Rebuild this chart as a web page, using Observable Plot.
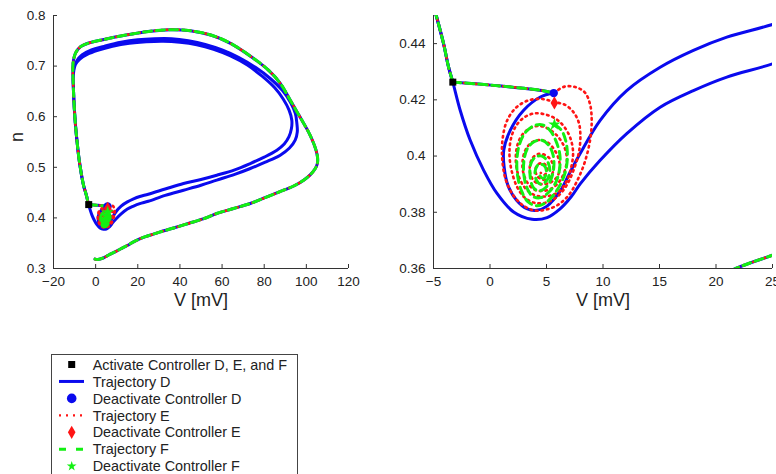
<!DOCTYPE html>
<html><head><meta charset="utf-8">
<script src="https://cdn.jsdelivr.net/npm/d3@7"></script>
<script src="https://cdn.jsdelivr.net/npm/@observablehq/plot@0.6"></script>
<style>
html,body{margin:0;padding:0;background:#fff;overflow:hidden;}
#page{position:relative;width:776px;height:474px;overflow:hidden;font-family:"Liberation Sans",Arial,sans-serif;}
.panel{position:absolute;top:0;}
.panel svg{max-width:none;overflow:visible;}
#legend{position:absolute;left:51px;top:354px;}
</style></head><body>
<div id="page"><div id="left" class="panel" style="left:0"></div><div id="right" class="panel" style="left:380px"></div><div id="legend"></div></div>
<script>
// ---- tick values ----
const xTicksL = [-20, 0, 20, 40, 60, 80, 100, 120];
const yTicksL = [0.3, 0.4, 0.5, 0.6, 0.7, 0.8];
const xTicksR = [-5, 0, 5, 10, 15, 20, 25];
const yTicksR = [0.36, 0.38, 0.4, 0.42, 0.44];
const xDomainL = [-20, 120], yDomainL = [0.3, 0.8];
const xDomainR = [-5, 25], yDomainR = [0.36, 0.45];

// ---- trajectory points [V (mV), n] ----
const preLower = [[-0.3,0.3185],[1,0.318],[2.5,0.3192],[4,0.3215],[6,0.3262],[9,0.3325],[12,0.339],[15,0.3455],[18,0.3525],[21.75,0.36],[25,0.3647],[30,0.3715],[37,0.38],[44,0.389],[51,0.398],[57.5,0.4087],[65,0.418],[73.4,0.4285],[81,0.441],[89.2,0.4547],[94.5,0.464],[98.7,0.4745],[101.8,0.485],[104,0.496],[105.2,0.507]];
const preTop = [[105.3,0.52],[104.5,0.535],[103,0.552],[101,0.57],[98.7,0.587],[95.5,0.61],[92.3,0.633],[87.6,0.666],[82,0.692],[74,0.718],[64,0.745],[55,0.761],[45,0.77],[35.4,0.772],[26,0.769],[18,0.764],[10,0.758],[2.2,0.751],[-3,0.746],[-7.3,0.738],[-9.5,0.726],[-10.5,0.712],[-10.8,0.698],[-10.8,0.686]];
const leftSide = [[-10.7,0.675],[-10.5,0.65],[-10.1,0.615],[-9.5,0.58],[-8.8,0.55],[-8.0,0.52],[-7.3,0.5],[-6.5,0.48],[-5.6,0.462],[-4.76,0.45],[-4.11,0.44],[-3.67,0.4317],[-3.29,0.4263]];
const controlSeg = [[-3.29,0.4263],[-1,0.4256],[1,0.4249],[3,0.4241],[4.6,0.4233],[5.64,0.4224]];
const dInner = [[5.64,0.4224],[4.46,0.421],[2.98,0.4163],[1.8,0.4092],[1.22,0.4021],[1.25,0.3961],[1.62,0.3892],[2.35,0.3843],[3.25,0.3813],[4.16,0.3807],[5.05,0.3822],[6.2,0.3875],[7.05,0.394],[7.98,0.4009],[9.75,0.4127],[12.1,0.4233],[15.06,0.4316],[18,0.4376],[20.96,0.4423],[25,0.4468]];
const loopALow = [[33,0.457],[41.7,0.468],[50,0.476],[57.5,0.4844],[66,0.495],[73.4,0.5075],[80,0.52],[86,0.5338],[89.5,0.546],[91.7,0.56],[92.9,0.576],[93.1,0.593]];
const loopATop = [[91.8,0.613],[89,0.635],[85,0.657],[79,0.68],[72,0.702],[64,0.72],[56,0.733],[48,0.742],[40,0.747],[32,0.749],[24,0.748],[16,0.745],[8,0.739],[1,0.731],[-4,0.723],[-7.5,0.714],[-9.6,0.703],[-10.4,0.69]];
const outerCurve = [[-2.64,0.4163],[-1.75,0.4056],[-0.57,0.395],[0.62,0.3867],[2.09,0.3801],[3.72,0.3775],[5.05,0.3781],[6.2,0.3812],[7.2,0.3856],[8.0,0.3902],[9.75,0.3985],[12.1,0.408],[15.06,0.4174],[18,0.4233],[20.96,0.4281],[25,0.4328]];
const loopBLow = [[33,0.4445],[41.7,0.4547],[50,0.4645],[57.5,0.4747],[66,0.486],[73.4,0.4976],[80.5,0.51],[87.6,0.524],[92,0.538],[94.7,0.5536],[95.7,0.57],[95.5,0.5866]];
const loopBTop = [[94.8,0.606],[92.5,0.628],[88.8,0.651],[83,0.675],[76,0.697],[68,0.717],[60,0.732],[52,0.743],[44,0.75],[36,0.754],[28,0.754],[20,0.752],[12,0.747],[4,0.739],[-2,0.732],[-6.5,0.722],[-9,0.71],[-10.2,0.695]];
const eSpiral = [[5.64,0.4224],[6.6,0.4247],[7.6,0.4245],[8.4,0.4226],[8.85,0.4185],[9.0,0.4125],[8.85,0.4055],[8.4,0.398],[7.75,0.3915],[6.95,0.386],[6.0,0.3826],[5.0,0.381],[4.0,0.3806],[3.0,0.3822],[2.1,0.3858],[1.4,0.3915],[1.08,0.399],[1.12,0.4062],[1.5,0.4125],[2.3,0.4172],[3.4,0.4198],[4.6,0.4203],
[5.7,0.4192],[6.6,0.4183],[7.35,0.4158],[7.85,0.412],[8.0,0.407],[7.85,0.401],[7.4,0.395],[6.8,0.3897],[6.0,0.3857],[5.0,0.3835],[4.0,0.3833],[3.1,0.3851],[2.4,0.389],[1.9,0.395],[1.72,0.401],[1.88,0.4066],[2.35,0.411],[3.05,0.4138],[3.95,0.4152],[4.9,0.4148],[5.8,0.4133],
[6.55,0.4105],[7.1,0.4065],[7.35,0.4015],[7.2,0.3962],[6.8,0.3912],[6.2,0.3877],[5.4,0.386],[4.5,0.3856],[3.65,0.3867],[2.95,0.3895],[2.45,0.394],[2.28,0.3992],[2.45,0.4042],[2.9,0.4078],[3.6,0.41],[4.4,0.4107],[5.2,0.4096],[5.95,0.4072],
[6.55,0.4035],[6.8,0.3993],[6.62,0.3948],[6.15,0.391],[5.5,0.3886],[4.7,0.3876],[3.95,0.388],[3.35,0.3903],[2.95,0.394],[2.88,0.398],[3.12,0.402],[3.62,0.4046],[4.3,0.4057],[5.0,0.4051],[5.6,0.4028],
[6.05,0.3993],[6.18,0.3955],[5.9,0.3924],[5.3,0.3905],[4.6,0.39],[4.0,0.3908],[3.62,0.393],[3.52,0.3962],[3.75,0.3992],[4.25,0.4007],[4.85,0.4004],[5.4,0.3985],
[5.62,0.3952],[5.3,0.3926],[4.72,0.3916],[4.22,0.3927],[4.02,0.3952],[4.3,0.3972],[4.8,0.3972],[5.08,0.3953],[4.82,0.3933],[4.5,0.394]];
const fSpiral = [[5.7,0.4112],[6.3,0.4093],[6.7,0.4055],[6.85,0.4005],[6.72,0.3952],[6.3,0.3905],[5.7,0.3866],[5.0,0.3836],[4.2,0.3823],[3.4,0.3836],[2.8,0.3875],[2.45,0.3928],[2.38,0.3988],[2.62,0.4043],[3.15,0.4085],[3.9,0.4108],[4.65,0.4111],[5.3,0.4092],
[5.85,0.4052],[6.18,0.4005],[6.15,0.3952],[5.82,0.3906],[5.22,0.3872],[4.5,0.3852],[3.8,0.3856],[3.28,0.3886],[3.0,0.3932],[3.0,0.3982],[3.3,0.4026],[3.9,0.4051],[4.6,0.4056],[5.2,0.4038],
[5.58,0.4004],[5.65,0.3962],[5.4,0.3917],[4.9,0.3887],[4.3,0.3876],[3.8,0.389],[3.55,0.393],[3.6,0.3971],[4.0,0.3996],[4.6,0.4],[5.1,0.398],
[5.3,0.3945],[5.0,0.3912],[4.5,0.39],[4.1,0.3915],[4.0,0.3948],[4.3,0.397],[4.8,0.3966],[5.0,0.394],[4.72,0.392],[4.42,0.393]];

// ---- event markers ----
const activatePt = [[-3.29, 0.4263]];
const deactD = [[5.64, 0.4224]];
const deactE = [[5.7, 0.4189]];
const deactF = [[5.7, 0.4112]];

const legendLabels = ["Activate Controller D, E, and F","Trajectory D","Deactivate Controller D","Trajectory E","Deactivate Controller E","Trajectory F","Deactivate Controller F"];

const BLUE = "#0a0aee", RED = "#ff1414", GREEN = "#12f012", AXIS = "#333";
const sharedPath = [...preLower, ...preTop, ...leftSide];
const dPath = [...dInner, ...loopALow, ...loopATop, ...leftSide, ...outerCurve, ...loopBLow, ...loopBTop, ...leftSide];
const blueStyle = {stroke: BLUE, strokeWidth: 3};
const redStyle = {stroke: RED, strokeWidth: 2.6, strokeDasharray: "1.6,4"};
const greenStyle = {stroke: GREEN, strokeWidth: 3, strokeDasharray: "8,5"};

function panel(o) {
  const H = 310, mL = 53, mT = 15, mB = 42, mR = o.marginRight;
  const iW = o.width - mL - mR, iH = H - mT - mB;
  const fmt = d3.format("~g");
  const X = d => d[0], Y = d => d[1];
  const ln = (data, style) => Plot.line(data, {x: X, y: Y, curve: "catmull-rom", clip: true, ...style});
  const marks = [
    Plot.ruleX([o.xDomain[0]], {stroke: AXIS}),
    Plot.ruleY([o.yDomain[0]], {stroke: AXIS}),
    Plot.tickX(o.xTicks, {x: d => d, insetTop: iH - 4, stroke: AXIS}),
    Plot.tickY(o.yTicks, {y: d => d, insetRight: iW - 4, stroke: AXIS}),
    Plot.axisX({ticks: o.xTicks, tickSize: 0, tickPadding: 8, tickFormat: fmt, label: null}),
    Plot.axisY({ticks: o.yTicks, tickSize: 0, tickPadding: 8, tickFormat: fmt, label: null}),
    ln(dPath, blueStyle),
    ln(sharedPath, blueStyle), ln(controlSeg, blueStyle),
    ln(sharedPath, redStyle), ln(controlSeg, redStyle), ln(eSpiral, redStyle),
    ln(sharedPath, greenStyle), ln(controlSeg, greenStyle), ln(fSpiral, greenStyle),
    Plot.dot(activatePt, {x: X, y: Y, symbol: "square", r: 3.95, fill: "#000", stroke: "none"}),
    Plot.dot(deactD, {x: X, y: Y, symbol: "circle", r: 4.2, fill: BLUE, stroke: "none"}),
    Plot.dot(deactE, {x: X, y: Y, symbol: "diamond", r: 4, fill: RED, stroke: "none"}),
    Plot.dot(deactF, {x: X, y: Y, symbol: "star", r: 3.9, fill: GREEN, stroke: "none"}),
    Plot.text([o.xLabel], {text: d => d, frameAnchor: "bottom", dy: 37, fontSize: 18, fill: "#222"})
  ];
  if (o.yLabel) marks.push(Plot.text([o.yLabel], {text: d => d, frameAnchor: "left", dx: -36, rotate: -90, fontSize: 18, fill: "#222"}));
  return Plot.plot({
    width: o.width, height: H, marginLeft: mL, marginTop: mT, marginBottom: mB, marginRight: mR,
    x: {domain: o.xDomain}, y: {domain: o.yDomain},
    style: {fontFamily: '"Liberation Sans", Arial, sans-serif', fontSize: "13.5px", color: "#222", background: "transparent", overflow: "visible"},
    marks
  });
}

document.getElementById("left").append(panel({width: 360, marginRight: 12, xDomain: xDomainL, yDomain: yDomainL, xTicks: xTicksL, yTicks: yTicksL, xLabel: "V [mV]", yLabel: "n"}));
document.getElementById("right").append(panel({width: 396, marginRight: 4, xDomain: xDomainR, yDomain: yDomainR, xTicks: xTicksR, yTicks: yTicksR, xLabel: "V [mV]"}));

// ---- legend ----
(function () {
  const W = 248, H = 124, rowH = 16.95, y0 = 10.5;
  const svg = d3.select("#legend").append("svg").attr("width", W).attr("height", H)
    .style("font-family", '"Liberation Sans", Arial, sans-serif').style("font-size", "14.4px");
  svg.append("rect").attr("x", 0.5).attr("y", 0.5).attr("width", 246).attr("height", 140)
    .attr("fill", "#fff").attr("stroke", "#444").attr("stroke-width", 1);
  const items = [
    {type: "sym", sym: d3.symbolSquare, size: 49, fill: "#000"},
    {type: "line", style: blueStyle},
    {type: "sym", sym: d3.symbolCircle, size: 72, fill: BLUE},
    {type: "line", style: {stroke: RED, strokeWidth: 2.4, strokeDasharray: "2,5"}},
    {type: "sym", sym: d3.symbolDiamond, size: 50, fill: RED},
    {type: "line", style: {stroke: GREEN, strokeWidth: 3, strokeDasharray: "7,10"}},
    {type: "sym", sym: d3.symbolStar, size: 30, fill: GREEN}
  ];
  legendLabels.forEach((label, i) => {
    const y = y0 + i * rowH, it = items[i];
    if (it.type === "sym") {
      svg.append("path").attr("d", d3.symbol(it.sym, it.size)()).attr("transform", `translate(20.7,${y})`).attr("fill", it.fill);
    } else {
      svg.append("line").attr("x1", 8).attr("x2", 33).attr("y1", y).attr("y2", y)
        .attr("stroke", it.style.stroke).attr("stroke-width", it.style.strokeWidth)
        .attr("stroke-dasharray", it.style.strokeDasharray || null);
    }
    svg.append("text").attr("x", 41.7).attr("y", y).attr("dy", "0.36em").attr("fill", "#222").text(label);
  });
})();
</script></body></html>
